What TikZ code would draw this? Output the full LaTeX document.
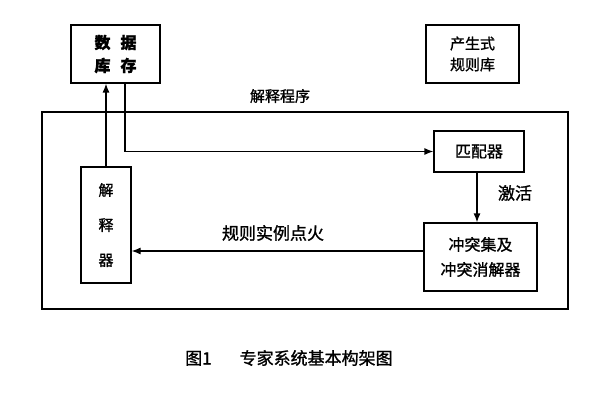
\documentclass[tikz,border=0pt]{standalone}
\usepackage{fontspec}
\setmainfont[FakeBold=1.2]{Noto Sans CJK SC}
\usetikzlibrary{arrows.meta}
\tikzset{
  box/.style={draw, line width=1.2pt, inner sep=0pt, align=center, font=\fontsize{16}{23}\selectfont},
  lbl/.style={inner sep=0pt, font=\fontsize{16}{20}\selectfont},
  conn/.style={line width=1.2pt, -{Latex[length=9pt,width=7pt]}},
}
\begin{document}
\begin{tikzpicture}[x=1pt,y=-1pt]
\useasboundingbox (0,0) rectangle (600,409);
\node[box, minimum width=89pt, minimum height=58pt] (db) at (115.5,54) {\bfseries 数\hspace{10pt}据\\\bfseries 库\hspace{10pt}存};
\node[box, minimum width=93pt, minimum height=58pt, font=\fontsize{15}{21}\selectfont] (rules) at (472.5,54) {产生式\\规则库};
\node[draw, line width=1.6pt, minimum width=526pt, minimum height=197pt, inner sep=0pt] (big) at (305,210.5) {};
\node[lbl, font=\fontsize{15}{20}\selectfont] (biglbl) at (280,96) {解释程序};
\node[box, minimum width=50pt, minimum height=116pt, font=\fontsize{15}{35}\selectfont] (interp) at (106,225) {解\\释\\器};
\node[box, minimum width=90pt, minimum height=41pt] (match) at (479,151.5) {匹配器};
\node[box, minimum width=113pt, minimum height=68pt, font=\fontsize{16}{25}\selectfont] (conflict) at (480.5,257) {冲突集及\\冲突消解器};
\node[lbl, font=\fontsize{17}{20}\selectfont] (act) at (515,193) {激活};
\node[lbl, font=\fontsize{17}{20}\selectfont] (fire) at (273,233) {规则实例点火};
\node[lbl, anchor=west, font=\fontsize{17}{20}\selectfont] (cap) at (185,358) {图1\hspace{28pt}专家系统基本构架图};
\draw[conn] (interp.north) -- (interp.north |- db.south);
\draw[conn] ([xshift=9.5pt]db.south) |- (match.west);
\draw[conn] ([xshift=-2pt]match.south) -- ([xshift=-2pt]match.south |- conflict.north);
\draw[conn] ([yshift=6pt]conflict.west) -- ([yshift=6pt]conflict.west -| interp.east);
\end{tikzpicture}
\end{document}
